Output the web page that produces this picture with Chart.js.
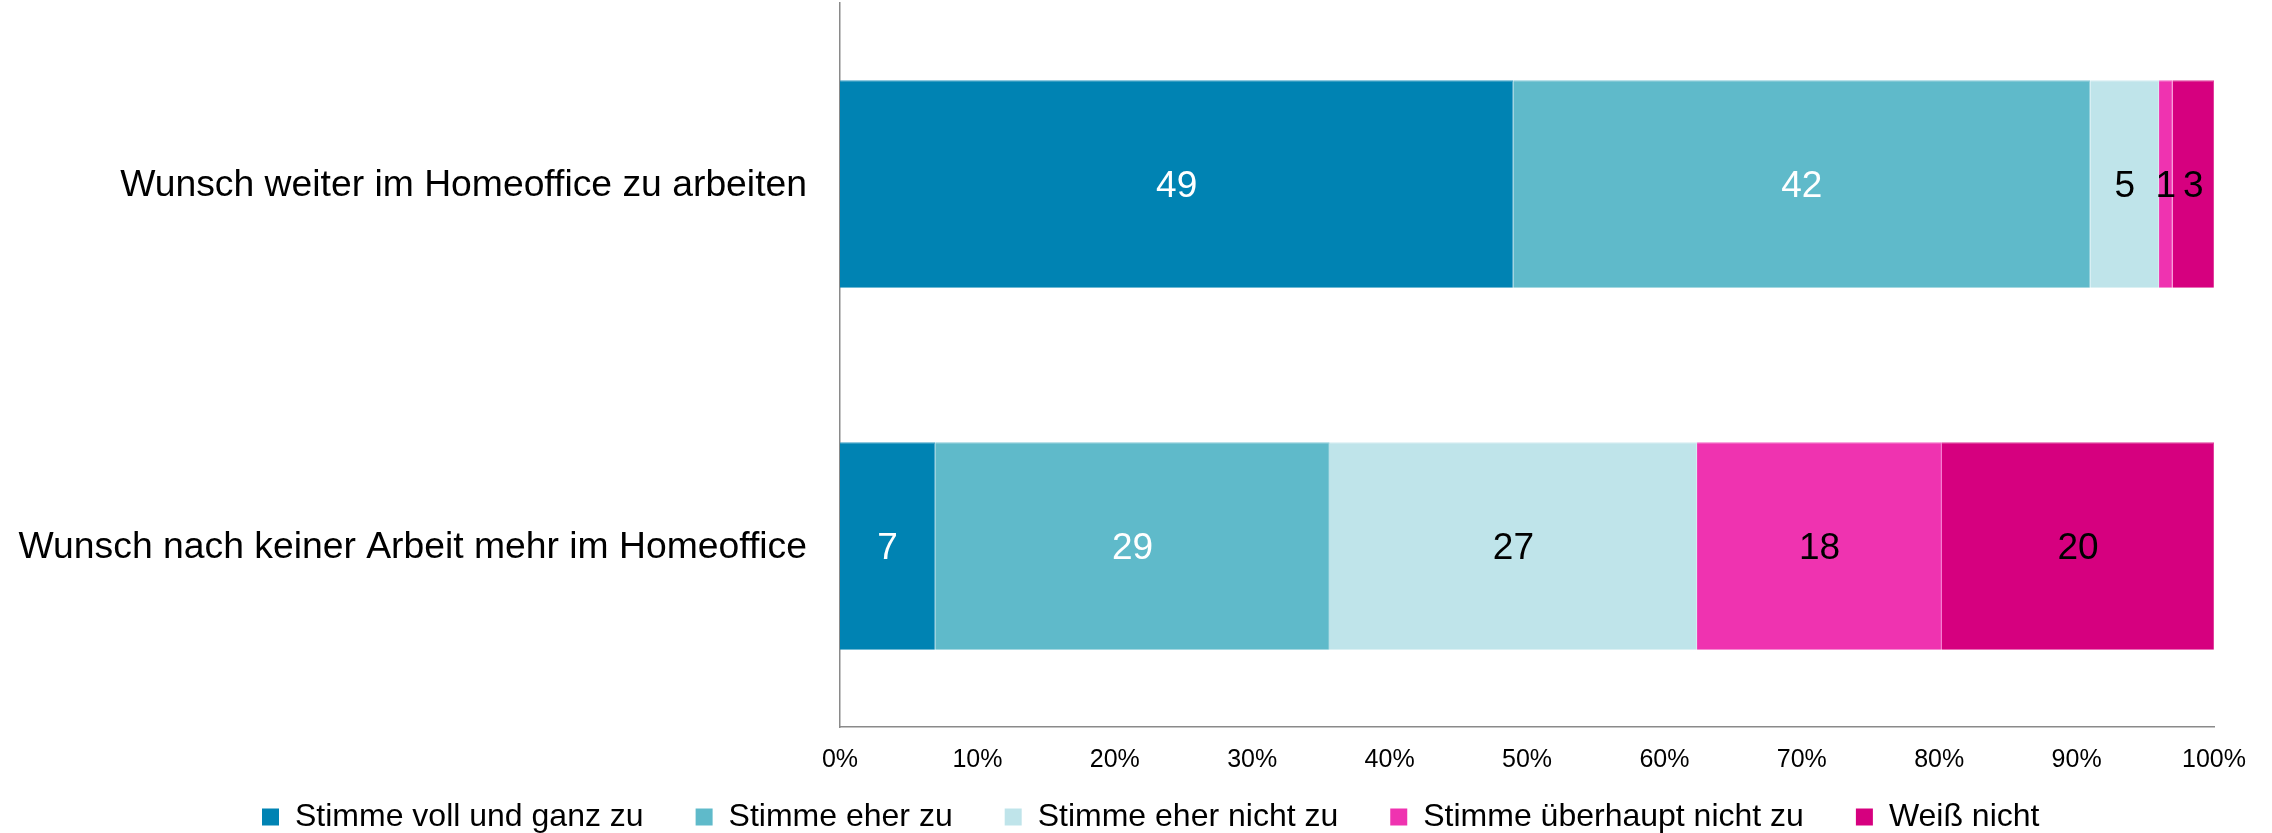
<!DOCTYPE html>
<html><head><meta charset="utf-8">
<script src="https://cdn.jsdelivr.net/npm/chart.js@4.4.0/dist/chart.umd.min.js"></script>
<style>html,body{margin:0;padding:0;background:#fff;overflow:hidden}</style>
</head><body>
<canvas id="c" width="2272" height="833" style="width:2272px;height:833px;display:block"></canvas>
<script>
const categories = ['Wunsch weiter im Homeoffice zu arbeiten', 'Wunsch nach keiner Arbeit mehr im Homeoffice'];
const seriesNames = ['Stimme voll und ganz zu', 'Stimme eher zu', 'Stimme eher nicht zu', 'Stimme überhaupt nicht zu', 'Weiß nicht'];
const vollUndGanz = [49, 7];
const eherZu = [42, 29];
const eherNicht = [5, 27];
const ueberhauptNicht = [1, 18];
const weissNicht = [3, 20];
const xTickValues = [0, 10, 20, 30, 40, 50, 60, 70, 80, 90, 100];

const seriesValues = [vollUndGanz, eherZu, eherNicht, ueberhauptNicht, weissNicht];
const colors = ['#0083B3', '#5FBACA', '#BFE4EA', '#EF33B0', '#D6007F'];
const edgeColors = ['#3C9FC6', '#86CBD8', '#D3ECF1', '#F465C5', '#E0409C'];
const labelColors = ['#ffffff', '#ffffff', '#000000', '#000000', '#000000'];
const FONT = '"Liberation Sans", Arial, sans-serif';

// 100% stacked: each row is shown as share of its total
const rowTotals = categories.map((_, j) => seriesValues.reduce((s, arr) => s + arr[j], 0));

const datasets = seriesNames.map((name, i) => ({
  label: name,
  raw: seriesValues[i],
  data: seriesValues[i].map((v, j) => v / rowTotals[j] * 100),
  backgroundColor: colors[i],
  borderColor: edgeColors[i],
  borderWidth: { top: 1, right: 1, bottom: 0, left: 0 },
  borderSkipped: false,
  categoryPercentage: 1,
  barPercentage: 0.573
}));

const valueLabels = {
  id: 'valueLabels',
  afterDatasetsDraw(chart) {
    const ctx = chart.ctx;
    chart.data.datasets.forEach((ds, i) => {
      const meta = chart.getDatasetMeta(i);
      meta.data.forEach((bar, j) => {
        const p = bar.getProps(['x', 'base', 'y'], true);
        ctx.save();
        ctx.font = '37px ' + FONT;
        ctx.fillStyle = labelColors[i];
        ctx.textAlign = 'center';
        ctx.textBaseline = 'middle';
        ctx.fillText(String(ds.raw[j]), (p.x + p.base) / 2, p.y + 3);
        ctx.restore();
      });
    });
  }
};

// place the legend row under the plot like the original
const legendPlacement = {
  id: 'legendPlacement',
  afterLayout(chart) {
    const lg = chart.legend;
    if (!lg) return;
    const h = lg.height;
    lg.left = 210; lg.right = 2214;
    lg.top = 749; lg.bottom = lg.top + h;
  }
};

const noAutoPad = (s) => { s.paddingTop = 0; s.paddingBottom = 0; s.paddingLeft = 0; s.paddingRight = 0; };

new Chart(document.getElementById('c'), {
  type: 'bar',
  data: { labels: categories, datasets },
  plugins: [valueLabels, legendPlacement],
  options: {
    indexAxis: 'y',
    responsive: false,
    animation: false,
    devicePixelRatio: 1,
    layout: { padding: { top: 3, right: 58, bottom: -48, left: 0 } },
    plugins: {
      tooltip: { enabled: false },
      legend: {
        position: 'bottom',
        align: 'start',
        labels: {
          boxWidth: 17,
          boxHeight: 17,
          padding: 52,
          color: '#000',
          font: { family: FONT, size: 32 },
          generateLabels: (chart) => chart.data.datasets.map((ds, i) => ({
            text: ds.label,
            fillStyle: colors[i],
            strokeStyle: colors[i],
            lineWidth: 0,
            hidden: false,
            datasetIndex: i,
            fontColor: '#000'
          }))
        }
      }
    },
    scales: {
      x: {
        stacked: true,
        min: 0,
        max: 100,
        afterBuildTicks: (s) => { s.ticks = xTickValues.map(v => ({ value: v })); },
        afterFit: (s) => { s.height = 60; noAutoPad(s); },
        grid: { display: false, drawTicks: false },
        border: { display: true, color: '#8a8a8a', width: 1.5 },
        ticks: {
          color: '#000',
          padding: 18,
          font: { family: FONT, size: 25 },
          callback: (v) => v + '%'
        }
      },
      y: {
        stacked: true,
        afterFit: (s) => { s.width = 840; noAutoPad(s); },
        grid: { display: false, drawTicks: false },
        border: { display: true, color: '#8a8a8a', width: 1.5 },
        ticks: {
          color: '#000',
          padding: 33,
          labelOffset: 2,
          font: { family: FONT, size: 37.3 }
        }
      }
    }
  }
});
</script>
</body></html>
